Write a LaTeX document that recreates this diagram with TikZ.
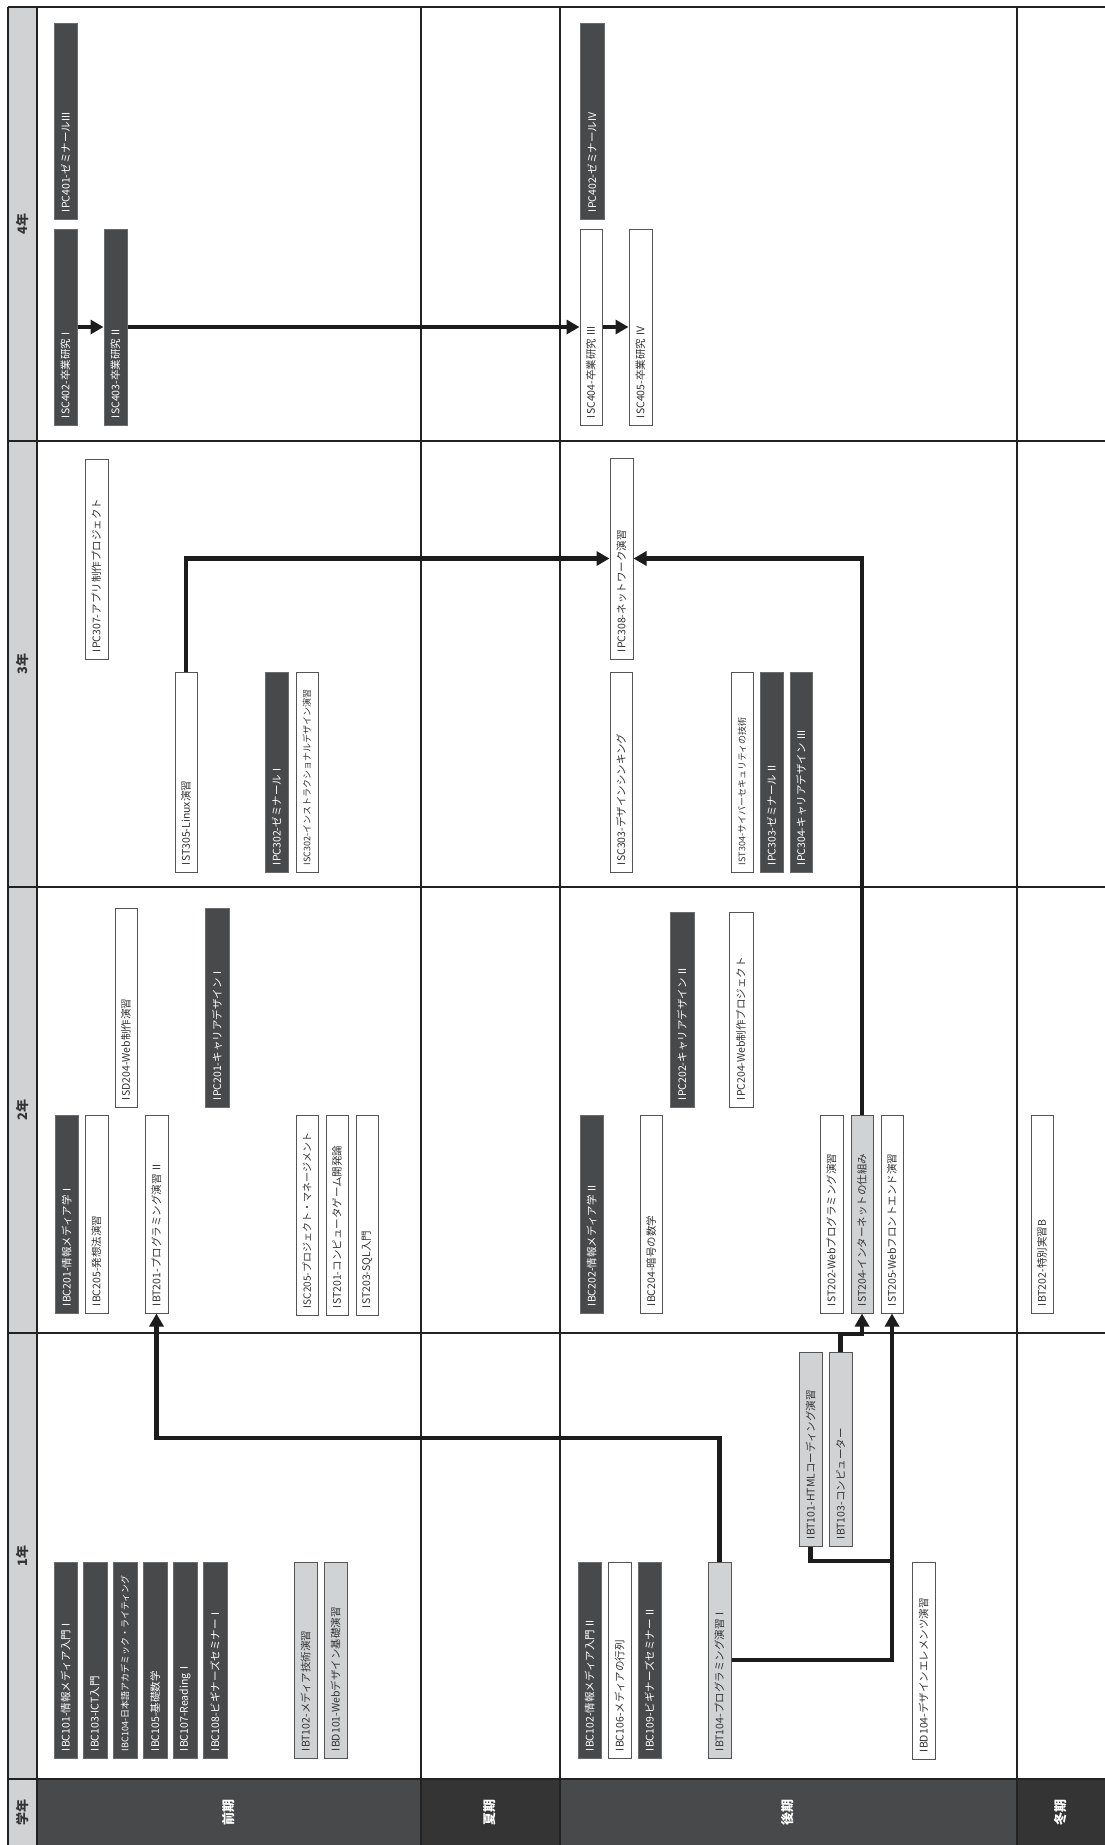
\documentclass[tikz,border=0pt]{standalone}
\usepackage{fontspec}
\newfontfamily\jp{Noto Sans CJK JP}
\usetikzlibrary{arrows.meta}
\definecolor{cDark}{HTML}{48494B}
\definecolor{cDarker}{HTML}{343434}
\definecolor{cLight}{HTML}{D1D2D4}
\definecolor{cEdge}{HTML}{555555}
\definecolor{cDEdge}{HTML}{6A6B6D}
\definecolor{cTxt}{HTML}{333333}
\definecolor{cLine}{HTML}{1C1C1C}
\definecolor{cGrid}{HTML}{222222}
\newcommand\crsbox[7]{%
  \pgfmathsetmacro\cx{(#3+#4)/2}%
  \pgfmathsetmacro\cy{(#5+#6)/2}%
  \pgfmathsetmacro\cl{#6-#5}%
  \pgfmathsetmacro\cw{#4-#3}%
  \pgfmathsetmacro\tw{#6-#5-14}%
  \node[#2, rotate=90, minimum width=\cl pt, minimum height=\cw pt, text width=\tw pt] (#1) at (\cx,\cy) {#7};%
}
\tikzset{
  cbox/.style={rectangle, line width=1pt, inner xsep=7pt, inner ysep=0pt, align=left,
    font=\jp\fontsize{10.5}{12}\selectfont},
  dk/.style={cbox, fill=cDark, draw=cDEdge, text=white},
  wt/.style={cbox, fill=white, draw=cEdge, text=cTxt},
  gy/.style={cbox, fill=cLight, draw=cEdge, text=cTxt},
  sm/.style={font=\jp\fontsize{9}{11}\selectfont},
  md/.style={font=\jp\fontsize{10}{12}\selectfont},
  grid/.style={line width=1.2pt, draw=cGrid},
  conn/.style={line width=4.5pt, draw=cLine, line join=miter},
  arr/.style={conn, -{Triangle[length=13pt,width=14pt]}},
  yr/.style={rotate=90, font=\jp\bfseries\fontsize{13}{15}\selectfont, text=cTxt},
  term/.style={rotate=90, font=\jp\bfseries\fontsize{13}{15}\selectfont, text=white},
}
\begin{document}
\begin{tikzpicture}[x=1pt,y=-1pt]
\useasboundingbox (0,0) rectangle (1105,1845);
\fill[white] (0,0) rectangle (1105,1845);
% strip and header backgrounds
\fill[cLight] (8,7) rectangle (37,1845);
\fill[cDark] (37,1779) rectangle (421,1845);
\fill[cDarker] (421,1779) rectangle (560,1845);
\fill[cDark] (560,1779) rectangle (1017,1845);
\fill[cDarker] (1017,1779) rectangle (1105,1845);
% grid lines
\draw[grid] (8,7) -- (1105,7);
\draw[grid] (8,441) -- (1105,441);
\draw[grid] (8,887) -- (1105,887);
\draw[grid] (8,1333) -- (1105,1333);
\draw[grid] (8,1779) -- (1105,1779);
\draw[grid] (8,7) -- (8,1845);
\draw[grid] (37,7) -- (37,1845);
\draw[grid] (421,7) -- (421,1845);
\draw[grid] (560,7) -- (560,1845);
\draw[grid] (1017,7) -- (1017,1845);
% year labels
\node[yr] (y4) at (22.5,224) {4年};
\node[yr] (y3) at (22.5,664) {3年};
\node[yr] (y2) at (22.5,1110) {2年};
\node[yr] (y1) at (22.5,1556) {1年};
\node[yr] (gak) at (22.5,1812) {学年};
\node[term] (zen) at (229,1812) {前期};
\node[term] (ka) at (490,1812) {夏期};
\node[term] (ko) at (788,1812) {後期};
\node[term] (to) at (1061,1812) {冬期};
% ---- 4年
\crsbox{IPC401}{dk}{54}{77}{23}{219}{IPC401-ゼミナールIII}
\crsbox{ISC402}{dk}{54}{77}{229}{425}{ISC402-卒業研究 I}
\crsbox{ISC403}{dk}{104}{127}{229}{425}{ISC403-卒業研究 II}
\crsbox{IPC402}{dk}{580}{604}{23}{219}{IPC402-ゼミナールIV}
\crsbox{ISC404}{wt}{580}{602}{229}{425}{ISC404-卒業研究 III}
\crsbox{ISC405}{wt}{629}{652}{229}{425}{ISC405-卒業研究 IV}
% ---- 3年
\crsbox{IPC307}{wt}{85}{108}{459}{659}{IPC307-アプリ制作プロジェクト}
\crsbox{IST305}{wt}{175}{197}{672}{872}{IST305-Linux演習}
\crsbox{IPC302}{dk}{265}{288}{672}{872}{IPC302-ゼミナール I}
\crsbox{ISC302}{wt,sm}{296}{318}{672}{872}{ISC302-インストラクショナルデザイン演習}
\crsbox{IPC308}{wt}{610}{633}{458}{659}{IPC308-ネットワーク演習}
\crsbox{ISC303}{wt}{610}{632}{672}{872}{ISC303-デザインシンキング}
\crsbox{IST304}{wt,sm}{731}{753}{672}{872}{IST304-サイバーセキュリティの技術}
\crsbox{IPC303}{dk}{760}{783}{672}{872}{IPC303-ゼミナール II}
\crsbox{IPC304}{dk}{790}{812}{672}{872}{IPC304-キャリアデザイン III}
% ---- 2年
\crsbox{IBC201}{dk}{55}{78}{1115}{1313}{IBC201-情報メディア学 I}
\crsbox{IBC205}{wt}{85}{108}{1115}{1313}{IBC205-発想法演習}
\crsbox{ISD204}{wt}{115}{137}{908}{1107}{ISD204-Web制作演習}
\crsbox{IBT201}{wt}{145}{168}{1115}{1313}{IBT201-プログラミング演習 II}
\crsbox{IPC201}{dk}{205}{229}{908}{1107}{IPC201-キャリアデザイン I}
\crsbox{ISC205}{wt,md}{296}{318}{1115}{1315}{ISC205-プロジェクト・マネージメント}
\crsbox{IST201}{wt}{326}{348}{1115}{1315}{IST201-コンピュータゲーム開発論}
\crsbox{IST203}{wt}{356}{378}{1115}{1315}{IST203-SQL入門}
\crsbox{IBC202}{dk}{580}{603}{1115}{1313}{IBC202-情報メディア学 II}
\crsbox{IBC204}{wt}{640}{662}{1115}{1313}{IBC204-暗号の数学}
\crsbox{IPC202}{dk}{670}{694}{912}{1107}{IPC202-キャリアデザイン II}
\crsbox{IPC204}{wt}{729}{753}{912}{1107}{IPC204-Web制作プロジェクト}
\crsbox{IST202}{wt}{820}{843}{1115}{1313}{IST202-Webプログラミング演習}
\crsbox{IST204}{gy}{851}{873}{1115}{1313}{IST204-インターネットの仕組み}
\crsbox{IST205}{wt}{881}{903}{1115}{1313}{IST205-Webフロントエンド演習}
\crsbox{IBT202}{wt}{1031}{1053}{1115}{1313}{IBT202-特別実習B}
% ---- 1年
\crsbox{IBC101}{dk}{54}{77}{1562}{1758}{IBC101-情報メディア入門 I}
\crsbox{IBC103}{dk}{83}{107}{1562}{1758}{IBC103-ICT入門}
\crsbox{IBC104}{dk,sm}{113}{137}{1562}{1758}{IBC104-日本語アカデミック・ライティング}
\crsbox{IBC105}{dk}{143}{167}{1562}{1758}{IBC105-基礎数学}
\crsbox{IBC107}{dk}{173}{197}{1562}{1758}{IBC107-Reading I}
\crsbox{IBC108}{dk}{203}{227}{1562}{1758}{IBC108-ビギナーズセミナー I}
\crsbox{IBT102}{gy}{294}{317}{1562}{1758}{IBT102-メディア技術演習}
\crsbox{IBD101}{gy}{324}{347}{1562}{1758}{IBD101-Webデザイン基礎演習}
\crsbox{IBC102}{dk}{578}{601}{1562}{1758}{IBC102-情報メディア入門 II}
\crsbox{IBC106}{wt}{608}{631}{1562}{1758}{IBC106-メディアの行列}
\crsbox{IBC109}{dk}{638}{661}{1562}{1758}{IBC109-ビギナーズセミナー II}
\crsbox{IBT104}{gy}{708}{731}{1562}{1758}{IBT104-プログラミング演習 I}
\crsbox{IBD104}{wt}{912}{935}{1562}{1759}{IBD104-デザインエレメンツ演習}
\crsbox{IBT101}{gy}{799}{822}{1352}{1546}{IBT101-HTMLコーディング演習}
\crsbox{IBT103}{gy}{829}{852}{1352}{1546}{IBT103-コンピューター}
% ---- connectors
\draw[arr] (ISC402.south) -- (ISC403.north);
\draw[arr] (ISC403.south) -- (ISC404.north);
\draw[arr] (ISC404.south) -- (ISC405.north);
\draw[arr] (IST305.east) |- (IPC308.north);
\draw[arr] (IST204.east) |- (IPC308.south);
\draw[arr] (IBT104.east) -- (IBT104.east |- 0,1438) -| (IBT201.west);
\draw[arr] (IBT104.south) -| (IST205.west);
\draw[conn] (IBT101.west) |- (IST205.west |- 0,1561);
\draw[arr] (IBT103.east) |- (IST204.west |- 0,1334) -- (IST204.west);
\end{tikzpicture}
\end{document}
